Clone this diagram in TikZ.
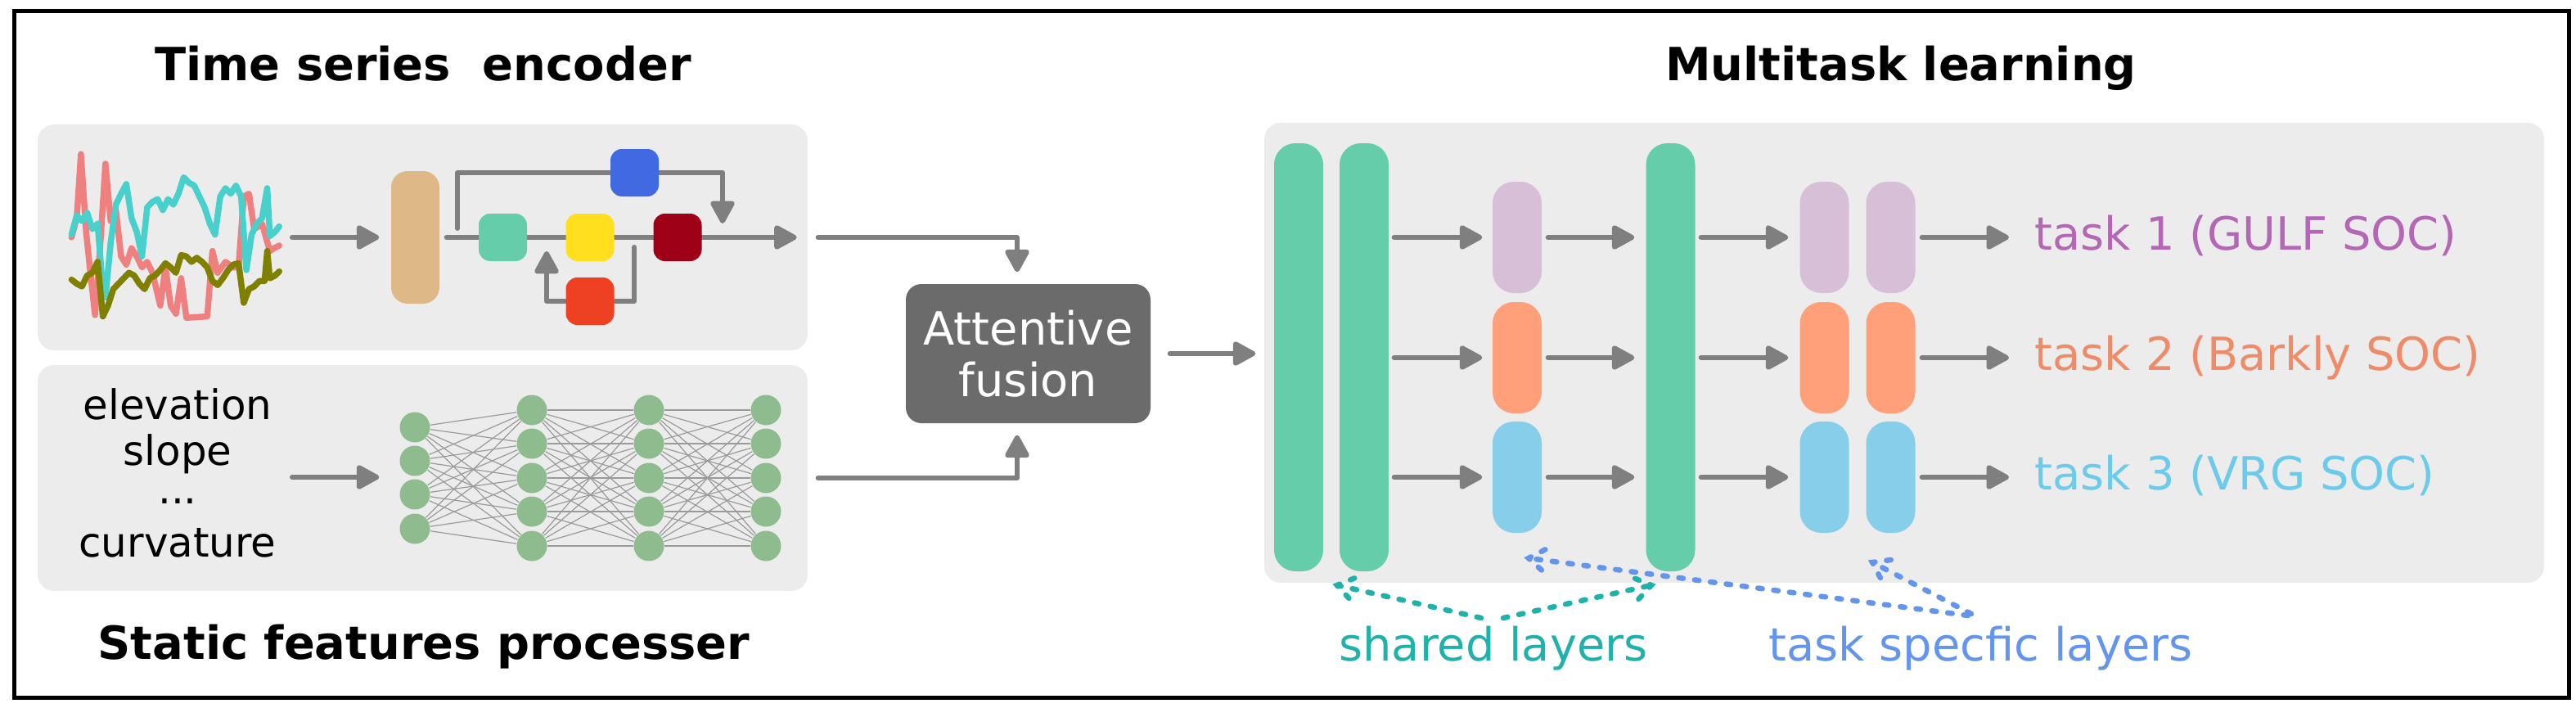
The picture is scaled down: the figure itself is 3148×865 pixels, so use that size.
\documentclass[tikz,border=0pt]{standalone}
\usepackage{fontspec}
\setmainfont{DejaVu Sans}
\usetikzlibrary{arrows.meta,calc}
\pgfdeclarelayer{back}
\pgfdeclarelayer{mid}
\pgfsetlayers{back,mid,main}
\definecolor{panelgray}{HTML}{ECECEC}
\definecolor{arrgray}{HTML}{7F7F7F}
\definecolor{tanc}{HTML}{DEB887}
\definecolor{aqua}{HTML}{66CDAA}
\definecolor{goldc}{HTML}{FFDF1E}
\definecolor{darkredc}{HTML}{9E0018}
\definecolor{royal}{HTML}{4169E1}
\definecolor{redorange}{HTML}{EE4124}
\definecolor{thistlec}{HTML}{D8BFD8}
\definecolor{salmonc}{HTML}{FFA07A}
\definecolor{skyc}{HTML}{87CEEB}
\definecolor{nngreen}{HTML}{8FBC8F}
\definecolor{edgegray}{HTML}{9A9A9A}
\definecolor{fusegray}{HTML}{6B6B6B}
\definecolor{taskA}{HTML}{B467B4}
\definecolor{taskB}{HTML}{EE8C69}
\definecolor{taskC}{HTML}{6CCBEB}
\definecolor{sharedc}{HTML}{20B2AA}
\definecolor{specc}{HTML}{6495ED}
\definecolor{tsred}{HTML}{F08080}
\definecolor{tsturq}{HTML}{48D1CC}
\definecolor{tsolive}{HTML}{808000}
\newcommand\fbig{\fontsize{15.9}{18.2}\selectfont}
\newcommand\fmid{\fontsize{14.2}{16}\selectfont}
\newcommand\dotarrow[3]{%
  \draw[dotl,#1] (#2) -- (#3);
  \draw[dotl,#1] ($(#3)!2.3mm!35:(#2)$) -- (#3) -- ($(#3)!2.3mm!-35:(#2)$);}
\tikzset{
  panel/.style={fill=panelgray, rounded corners=2mm, inner sep=0, draw=none},
  enc/.style={rounded corners=1.4mm, minimum width=5.9mm, minimum height=5.8mm, inner sep=0},
  bar/.style={fill=aqua, rounded corners=2.6mm, minimum width=6mm, minimum height=52.3mm, inner sep=0},
  tsk/.style={rounded corners=2.6mm, minimum width=6mm, minimum height=13.6mm, inner sep=0},
  arr/.style={draw=arrgray, line width=0.6mm, -{Triangle[length=3.1mm,width=3.2mm,round]}, line cap=round, line join=round},
  nn/.style={circle, fill=nngreen, minimum size=3.7mm, inner sep=0},
  nnedge/.style={draw=edgegray, line width=0.12mm},
  title/.style={font=\fbig\bfseries, inner sep=0},
  lab/.style={font=\fbig, inner sep=0},
  feat/.style={font=\fmid, inner sep=0},
  dotl/.style={line width=0.65mm, line cap=round, dash pattern=on 0.55mm off 1.4mm},
}
\begin{document}
\begin{tikzpicture}[x=0.1mm,y=-0.1mm]
\useasboundingbox (0,0) rectangle (3148,865);
\draw[line width=0.5mm] (17,13) rectangle (3139,852);

% panels
\begin{pgfonlayer}{back}
\node[panel, minimum width=94.1mm, minimum height=27.6mm] (tsbox) at (516.5,290) {};
\node[panel, minimum width=94.1mm, minimum height=27.6mm] (sfbox) at (516.5,584) {};
\node[panel, minimum width=156.4mm, minimum height=56.2mm] (mtbox) at (2327,431) {};
\end{pgfonlayer}

% titles
\node[title, anchor=base] (ttl1) at (517,98) {Time series\ \ encoder};
\node[title, anchor=base] (ttl2) at (518,805) {Static features processer};
\node[title, anchor=base] (ttl3) at (2323,98) {Multitask learning};

% time series plot
\begin{scope}[shift={(30,140)}, x=0.06378mm, y=-0.03333mm, line width=0.75mm, line join=round, line cap=round]
\draw[tsred] plot coordinates {(90,450) (100,380) (108,145) (118,430) (125,560) (135,735) (145,480) (155,180) (165,390) (175,350) (185,520) (195,550) (205,490) (215,520) (225,560) (235,540) (245,580) (260,700) (270,560) (280,700) (290,730) (300,600) (310,745) (350,740) (360,500) (370,580) (385,540) (400,560) (410,560) (420,300) (430,290) (440,420) (455,400) (470,500) (478,490) (488,480)};
\draw[tsturq] plot coordinates {(90,440) (100,370) (110,390) (120,360) (130,420) (140,400) (150,640) (155,670) (165,470) (175,330) (185,290) (195,255) (205,380) (215,430) (225,520) (235,340) (245,320) (255,310) (265,350) (275,310) (285,330) (295,290) (305,230) (315,250) (325,260) (335,300) (345,340) (355,400) (365,440) (375,300) (385,270) (395,290) (405,260) (415,300) (425,570) (435,440) (445,400) (455,380) (465,270) (470,445) (480,430) (488,410)};
\draw[tsolive] plot coordinates {(90,605) (100,620) (110,630) (120,590) (130,580) (140,540) (150,740) (160,700) (170,640) (180,620) (190,600) (200,580) (210,590) (220,620) (230,640) (240,600) (250,590) (260,570) (270,545) (280,560) (290,580) (300,515) (310,520) (320,540) (330,525) (340,540) (350,560) (360,610) (370,625) (380,600) (390,570) (400,550) (410,545) (420,690) (430,640) (440,630) (450,610) (460,610) (465,500) (470,600) (480,590) (488,575)};
\end{scope}

% encoder blocks
\node[fill=tanc, rounded corners=2mm, minimum width=5.9mm, minimum height=16.2mm, inner sep=0] (tan) at (507.5,290) {};
\node[enc, fill=aqua] (e1) at (614.5,290) {};
\node[enc, fill=goldc] (e2) at (721,290) {};
\node[enc, fill=darkredc] (e3) at (828,290) {};
\node[enc, fill=royal] (e4) at (775.5,211) {};
\node[enc, fill=redorange] (e5) at (721,368) {};
\coordinate (tsout) at (357,290);
\coordinate (byA) at (559,279);
\coordinate (byB) at (883,273);
\coordinate (lpA) at (775,302);
\coordinate (lpB) at (668,307);

% static features
\node[feat, anchor=base] (f1) at (217,512) {elevation};
\node[feat, anchor=base] (f2) at (217,568) {slope};
\node[feat, anchor=base] (f3) at (217,615) {...};
\node[feat, anchor=base] (f4) at (217,680) {curvature};
\foreach \i/\y in {1/522,2/563,3/604,4/646} \node[nn] (n1\i) at (507,\y) {};
\foreach \L/\x in {2/650,3/793,4/936} \foreach \i/\y in {1/501,2/542,3/584,4/625,5/667} \node[nn] (n\L\i) at (\x,\y) {};
\coordinate (sfin) at (357,583);

% fusion
\node[fill=fusegray, rounded corners=1.9mm, minimum width=29.9mm, minimum height=17mm, text=white, align=center, font=\fbig, inner sep=0] (att) at (1256.5,432) {Attentive\\[-0.05mm]fusion};

% multitask
\node[bar] (g1) at (1587,436.5) {};
\node[bar] (g2) at (1667,436.5) {};
\node[bar] (g3) at (2041.5,436.5) {};
\foreach \c/\x in {a/1854,b/2229.5,c/2310.5} {
  \node[tsk, fill=thistlec] (\c1) at (\x,290) {};
  \node[tsk, fill=salmonc] (\c2) at (\x,437) {};
  \node[tsk, fill=skyc] (\c3) at (\x,583) {};
}
\node[lab, text=taskA, anchor=base west] (l1) at (2486,305) {task 1 (GULF SOC)};
\node[lab, text=taskB, anchor=base west] (l2) at (2486,452) {task 2 (Barkly SOC)};
\node[lab, text=taskC, anchor=base west] (l3) at (2486,598) {task 3 (VRG SOC)};

\node[lab, text=sharedc, anchor=base] (shl) at (1825,807) {shared layers};
\node[lab, text=specc, anchor=base] (spl) at (2420.5,807) {task specfic layers};
\coordinate (shT1) at (1810,755);
\coordinate (shT2) at (1837,755);
\coordinate (shH1) at (1634,715);
\coordinate (shH2) at (2018,715);
\coordinate (spT1) at (2405,752);
\coordinate (spT2) at (2409,750);
\coordinate (spH1) at (1868,682);
\coordinate (spH2) at (2288,687);

% connectors
\begin{pgfonlayer}{mid}
\draw[arr, shorten >=1.4mm] (tsout) -- (tan);
\draw[arr, shorten <=0.8mm, shorten >=1.4mm] (tan) -- (tsbox.east);
\draw[arr] (byA) |- (e4) -| (byB);
\draw[arr] (lpA) |- (e5) -| (lpB);
\draw[arr, shorten >=2.45mm] (sfin) -- (sfin -| n11.west);
\foreach \i in {1,...,4} \foreach \j in {1,...,5} \draw[nnedge] (n1\i) -- (n2\j);
\foreach \a/\b in {2/3,3/4} \foreach \i in {1,...,5} \foreach \j in {1,...,5} \draw[nnedge] (n\a\i) -- (n\b\j);
\draw[arr, shorten <=1.2mm, shorten >=1.4mm] (tsbox.east) -| ([xshift=-1.35mm]att.north);
\draw[arr, shorten <=1.2mm, shorten >=1.4mm] (sfbox.east) -| ([xshift=-1.35mm]att.south);
\draw[arr, shorten <=2.3mm, shorten >=1mm] (att.east) -- (att.east -| mtbox.west);
\foreach \r in {1,2,3} {
  \draw[arr, shorten <=0.6mm, shorten >=1.2mm] (g2.east |- a\r) -- (a\r);
  \draw[arr, shorten <=0.7mm, shorten >=1.35mm] (a\r) -- (g3.west |- a\r);
  \draw[arr, shorten <=0.65mm, shorten >=1.35mm] (g3.east |- b\r) -- (b\r);
  \draw[arr, shorten <=0.75mm, shorten >=3.1mm] (c\r) -- (l\r.west |- c\r);
}
\end{pgfonlayer}

\dotarrow{sharedc}{shT1}{shH1}
\dotarrow{sharedc}{shT2}{shH2}
\dotarrow{specc}{spT1}{spH1}
\dotarrow{specc}{spT2}{spH2}
\end{tikzpicture}
\end{document}
